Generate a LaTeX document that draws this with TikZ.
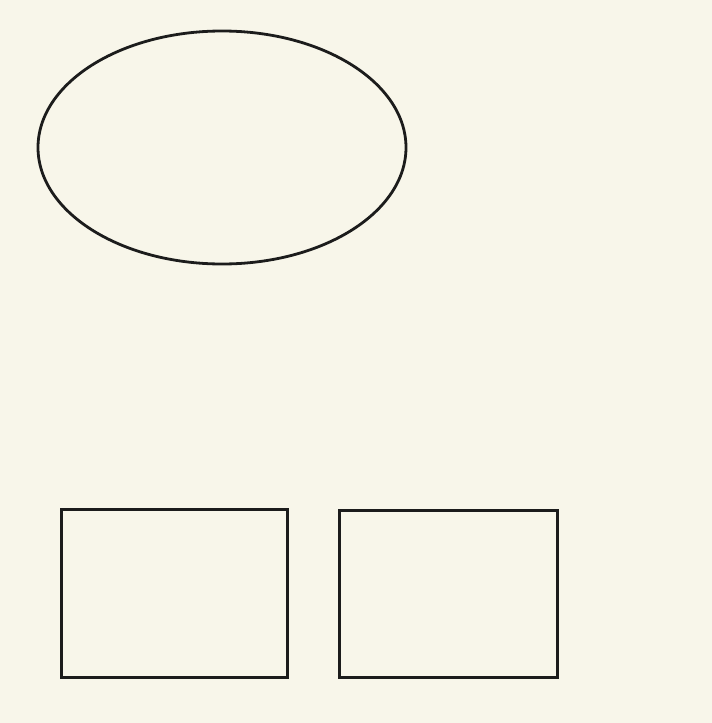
\documentclass[tikz,border=0pt]{standalone}
\usetikzlibrary{shapes.geometric}
\definecolor{bg}{HTML}{F8F6EA}
\definecolor{ink}{HTML}{1C1C1C}
\begin{document}
\begin{tikzpicture}[x=1pt,y=-1pt,
  outline/.style={draw=ink,inner sep=0pt,outer sep=0pt},
  oval/.style={outline,ellipse,line width=2.8pt},
  box/.style={outline,rectangle,line width=3pt}]
\fill[bg] (0,0) rectangle (712,723);
\useasboundingbox (0,0) rectangle (712,723);
\node[oval,minimum width=368pt,minimum height=233pt] (e) at (222,147.5) {};
\node[box,minimum width=226pt,minimum height=168pt] (r1) at (174,593) {};
\node[box,minimum width=218pt,minimum height=167pt] (r2) at (448,593.5) {};
\end{tikzpicture}
\end{document}
